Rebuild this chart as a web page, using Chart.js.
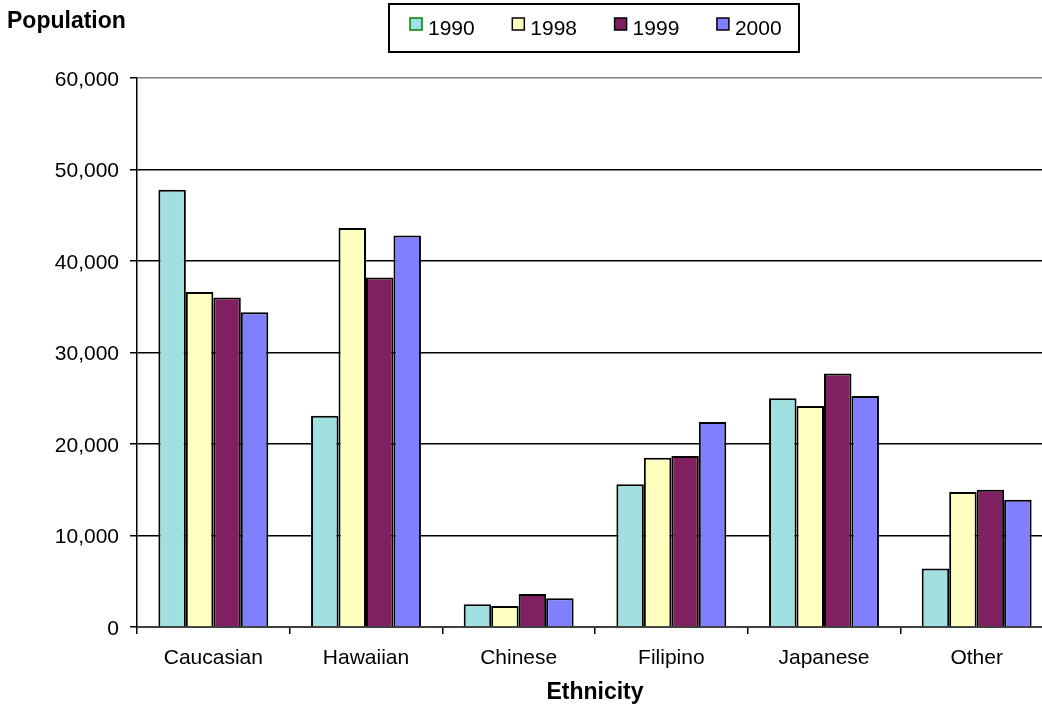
<!DOCTYPE html>
<html>
<head>
<meta charset="utf-8">
<script src="https://cdn.jsdelivr.net/npm/chart.js@4"></script>
<style>
  html, body { margin: 0; padding: 0; background: #fff; overflow: hidden; }
  #wrap { position: absolute; left: 0; top: 0; }
</style>
</head>
<body>
<div id="wrap"><canvas id="chart" width="1060" height="706"></canvas></div>
<script>
const categories = ['Caucasian', 'Hawaiian', 'Chinese', 'Filipino', 'Japanese', 'Other'];
const years = ['1990', '1998', '1999', '2000'];

const pop1990 = [47800, 23100, 2500, 15600, 25000, 6400];
const pop1998 = [36600, 43600, 2300, 18500, 24150, 14750];
const pop1999 = [36000, 38200, 3600, 18700, 27700, 15000];
const pop2000 = [34400, 42800, 3150, 22400, 25250, 13900];

const yTicks = [0, 10000, 20000, 30000, 40000, 50000, 60000];

const fills = ['#A0E0E0', '#FFFFC0', '#802060', '#8080FF'];
const legendEdges = ['#008000', '#000000', '#000000', '#000000'];
const FONT = "'Liberation Sans', Arial, sans-serif";

const series = [pop1990, pop1998, pop1999, pop2000];

// legend in a framed box, like the old spreadsheet chart
const boxLegend = {
  id: 'boxLegend',
  afterDraw(chart) {
    const ctx = chart.ctx;
    ctx.save();
    ctx.lineWidth = 2;
    ctx.strokeStyle = '#000';
    ctx.strokeRect(389, 4, 410, 48);
    ctx.font = '21px ' + FONT;
    ctx.textBaseline = 'middle';
    ctx.textAlign = 'left';
    chart.data.datasets.forEach((ds, i) => {
      const x = 410 + i * 102.3;
      ctx.fillStyle = ds.backgroundColor;
      ctx.fillRect(x, 18, 12, 12);
      ctx.lineWidth = 1.5;
      ctx.strokeStyle = legendEdges[i];
      ctx.strokeRect(x, 18, 12, 12);
      ctx.fillStyle = '#000';
      ctx.fillText(ds.label, x + 18, 29);
    });
    ctx.restore();
  }
};

new Chart(document.getElementById('chart').getContext('2d'), {
  type: 'bar',
  data: {
    labels: categories,
    datasets: years.map((y, i) => ({
      label: y,
      data: series[i],
      backgroundColor: fills[i],
      borderColor: '#000',
      borderWidth: 2,
      categoryPercentage: 0.72,
      barPercentage: 1.0
    }))
  },
  options: {
    responsive: false,
    animation: false,
    devicePixelRatio: 1,
    layout: { padding: { left: 7, right: 7, top: 0, bottom: 0 } },
    plugins: {
      legend: { display: false },
      tooltip: { enabled: false },
      title: {
        display: true,
        text: 'Population',
        align: 'start',
        color: '#000',
        font: { family: FONT, size: 23, weight: 'bold' },
        padding: { top: 8, bottom: 42.4 }
      }
    },
    scales: {
      x: {
        offset: true,
        afterFit: (scale) => { scale.height = 79; },
        grid: {
          offset: true,
          drawOnChartArea: false,
          drawTicks: true,
          tickLength: 7,
          tickColor: '#000',
          lineWidth: 1.5
        },
        border: { color: '#404040', width: 2 },
        ticks: {
          color: '#000',
          padding: 12,
          font: { family: FONT, size: 21 }
        },
        title: {
          display: true,
          text: 'Ethnicity',
          color: '#000',
          font: { family: FONT, size: 23, weight: 'bold' },
          padding: { top: 0, bottom: 0 }
        }
      },
      y: {
        min: 0,
        max: 60000,
        afterFit: (scale) => { scale.width = 130; },
        afterBuildTicks: (scale) => { scale.ticks = yTicks.map(v => ({ value: v })); },
        grid: {
          color: (c) => (c.tick && c.tick.value === 60000 ? '#808080' : '#000'),
          lineWidth: 1.5,
          tickLength: 7,
          tickColor: '#000'
        },
        border: { color: '#000', width: 1.5 },
        ticks: {
          color: '#000',
          padding: 11,
          labelOffset: 2,
          font: { family: FONT, size: 21 },
          callback: (v) => Number(v).toLocaleString('en-US')
        }
      }
    }
  },
  plugins: [boxLegend]
});
</script>
</body>
</html>
